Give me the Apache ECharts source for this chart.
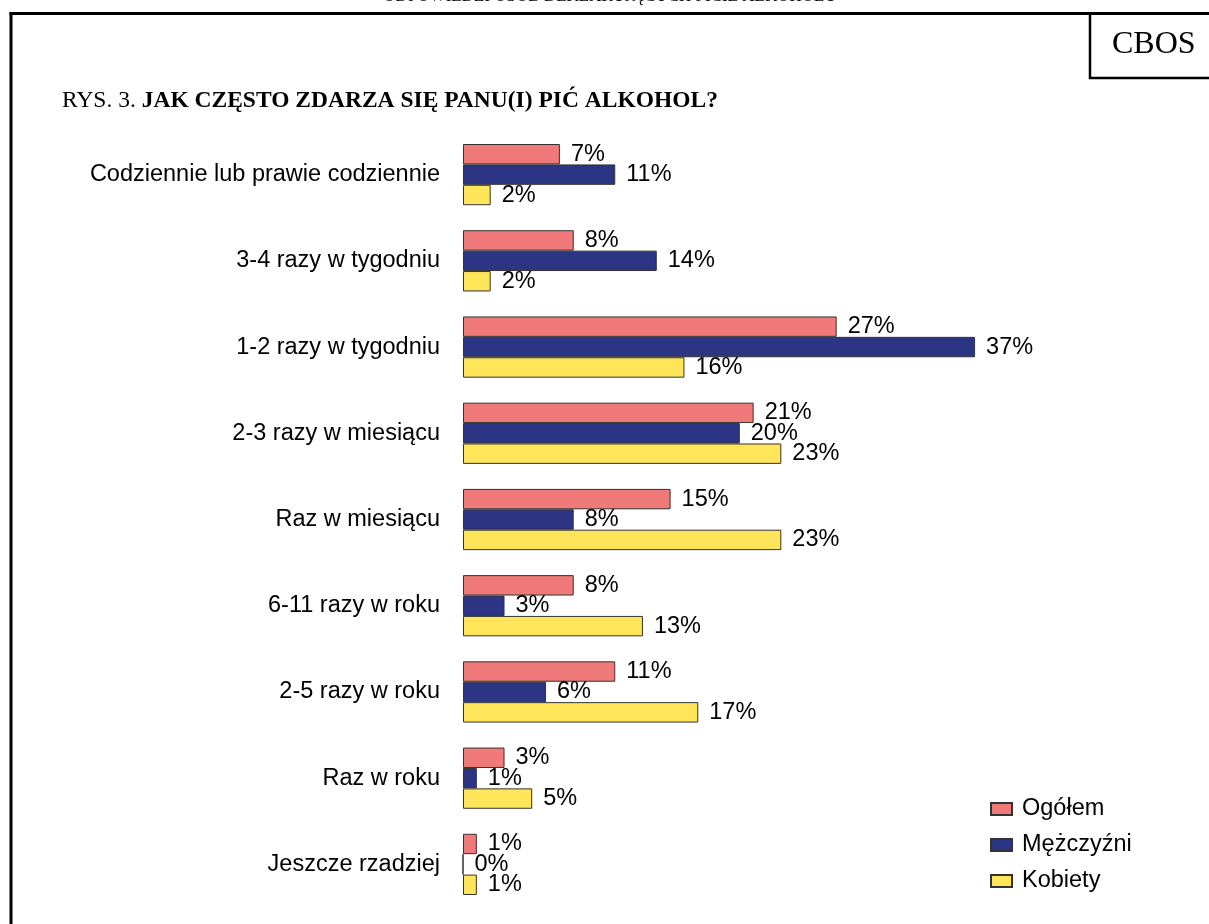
<!DOCTYPE html>
<html>
<head>
<meta charset="utf-8">
<script src="https://cdn.jsdelivr.net/npm/echarts@6/dist/echarts.min.js"></script>
<style>html,body{margin:0;padding:0;background:#fff;}#c{width:1209px;height:924px;}</style>
</head>
<body>
<div id="c"></div>
<script>
var categories = ['Codziennie lub prawie codziennie','3-4 razy w tygodniu','1-2 razy w tygodniu','2-3 razy w miesiącu','Raz w miesiącu','6-11 razy w roku','2-5 razy w roku','Raz w roku','Jeszcze rzadziej'];
var seriesNames = ['Ogółem','Mężczyźni','Kobiety'];
var ogolem = [7, 8, 27, 21, 15, 8, 11, 3, 1];
var mezczyzni = [11, 14, 37, 20, 8, 3, 6, 1, 0];
var kobiety = [2, 2, 16, 23, 23, 13, 17, 5, 1];
var colors = ['#F07A7A', '#2B3584', '#FFE55A'];

var chart = echarts.init(document.getElementById('c'));
var sans = '"Liberation Sans", Arial, sans-serif';
var serif = '"Liberation Serif", "Times New Roman", serif';

function mk(name, data, color) {
  return {
    name: name, type: 'bar', data: data,
    barGap: '0%', barCategoryGap: '29%',
    itemStyle: { color: color, borderColor: '#333', borderWidth: 1 },
    label: { show: true, position: 'right', distance: 11, formatter: '{c}%',
      fontSize: 23.5, color: '#000', fontFamily: sans },
    emphasis: { disabled: true }, animation: false
  };
}

chart.setOption({
  backgroundColor: '#fff',
  animation: false,
  title: {
    left: 62, top: 89, padding: 0,
    text: '{a|RYS. 3. }{b|JAK CZĘSTO ZDARZA SIĘ PANU(I) PIĆ ALKOHOL?}',
    textStyle: { fontWeight: 'normal', rich: {
      a: { fontFamily: serif, fontSize: 23.5, fontWeight: 'normal', color: '#000' },
      b: { fontFamily: serif, fontSize: 23.5, fontWeight: 'bold', color: '#000' }
    } }
  },
  legend: {
    orient: 'vertical', left: 990, top: 797, padding: 0,
    itemWidth: 21, itemHeight: 12, itemGap: 12,
    icon: 'rect',
    data: seriesNames,
    textStyle: { fontFamily: sans, fontSize: 23.5, color: '#000', lineHeight: 22, padding: [0, 0, 0, 5] }
  },
  grid: { left: 463, width: 553.6, top: 131.5, height: 776, containLabel: false },
  xAxis: { type: 'value', min: 0, max: 40, show: false },
  yAxis: {
    type: 'category', data: categories, inverse: true,
    axisLine: { show: false }, axisTick: { show: false },
    axisLabel: { margin: 23, fontSize: 23.5, color: '#000', fontFamily: sans }
  },
  series: [mk(seriesNames[0], ogolem, colors[0]), mk(seriesNames[1], mezczyzni, colors[1]), mk(seriesNames[2], kobiety, colors[2])],
  graphic: [
    { type: 'line', shape: { x1: 9.5, y1: 13.5, x2: 1209, y2: 13.5 }, style: { stroke: '#000', lineWidth: 3 } },
    { type: 'line', shape: { x1: 11, y1: 12, x2: 11, y2: 924 }, style: { stroke: '#000', lineWidth: 3 } },
    { type: 'line', shape: { x1: 1090, y1: 13, x2: 1090, y2: 79 }, style: { stroke: '#000', lineWidth: 2.5 } },
    { type: 'line', shape: { x1: 1089, y1: 78, x2: 1209, y2: 78 }, style: { stroke: '#000', lineWidth: 2.5 } },
    { type: 'text', left: 1112, top: 29, style: { text: 'CBOS', fontFamily: serif, fontSize: 32, fill: '#000' } },
    { type: 'text', x: 610, y: 5, style: { text: 'ODPOWIEDZI OSÓB DEKLARUJĄCYCH PICIE ALKOHOLU', fontFamily: serif, fontSize: 17, fill: '#000', align: 'center', verticalAlign: 'bottom' } }
  ]
});
</script>
</body>
</html>
